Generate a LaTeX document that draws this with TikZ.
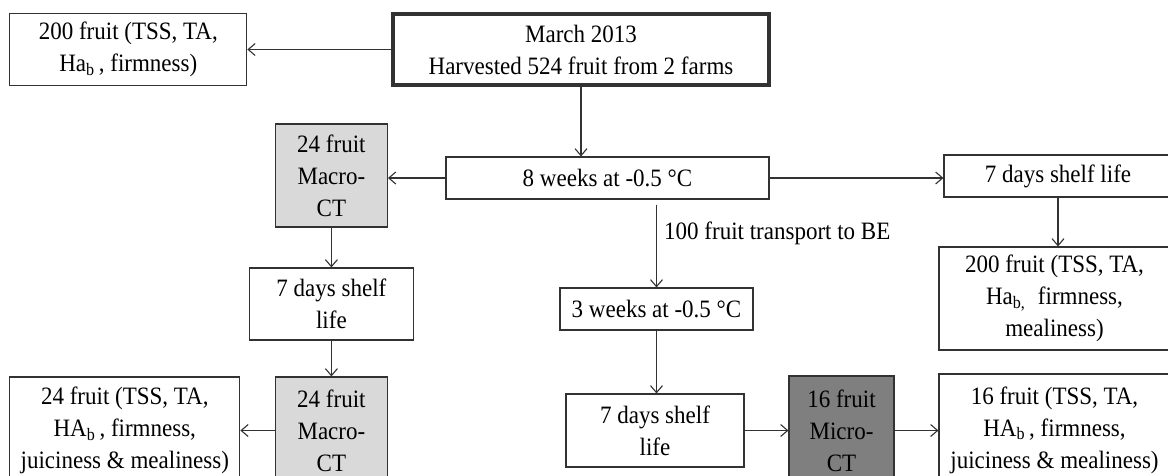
\documentclass[tikz,border=0pt]{standalone}
\usepackage{fontspec}
\setmainfont{Liberation Serif}[FakeStretch=0.92]
\usetikzlibrary{arrows.meta,calc}
\definecolor{lightfill}{RGB}{217,217,217}
\definecolor{darkfill}{RGB}{127,127,127}
\definecolor{edge}{RGB}{50,50,50}
\begin{document}
\begin{tikzpicture}[x=1pt,y=-1pt,
  box/.style={draw=edge, line width=1.1pt, align=center, inner sep=0pt,
    font=\fontsize{25}{32}\selectfont},
  arr/.style={draw=edge, line width=1.1pt, -{Straight Barb[length=7pt,width=12pt]}},
  lbl/.style={inner sep=0pt, font=\fontsize{25}{32}\selectfont}
]
\clip (0,0) rectangle (1168,475);
\fill[white] (0,0) rectangle (1168,475);

\node[box, minimum width=237pt, minimum height=72pt] (f200a) at (128.3,49.5)
  {200 fruit (TSS, TA,\\ Ha\textsubscript{b}\,, firmness)};
\node[box, line width=3.5pt, minimum width=376pt, minimum height=71pt] (m) at (581,49.5)
  {March 2013\\Harvested 524 fruit from 2 farms};
\node[box, fill=lightfill, minimum width=112pt, minimum height=103pt] (mct1) at (331.4,175.5)
  {24 fruit\\Macro-\\CT};
\node[box, minimum width=323pt, minimum height=42pt] (w8) at (607.5,178)
  {8 weeks at -0.5 °C};
\node[box, minimum width=228pt, minimum height=42pt] (sl1) at (1058,176)
  {7 days shelf life};
\node[box, minimum width=164pt, minimum height=72pt] (sl2) at (331.4,304)
  {7 days shelf\\life};
\node[box, minimum width=193pt, minimum height=42pt] (w3) at (656.5,309)
  {3 weeks at -0.5 °C};
\node[box, minimum width=231pt, minimum height=103pt] (f200r) at (1054.5,298.5)
  {200 fruit (TSS, TA,\\ Ha\textsubscript{b,}\enspace firmness,\\ mealiness)};
\node[box, minimum width=230pt, minimum height=107pt] (f24) at (124.8,430.5)
  {24 fruit (TSS, TA,\\ HA\textsubscript{b}\,, firmness,\\ juiciness \& mealiness)};
\node[box, fill=lightfill, minimum width=112pt, minimum height=107pt] (mct2) at (331.4,430.5)
  {24 fruit\\Macro-\\CT};
\node[box, minimum width=178pt, minimum height=73pt] (sl3) at (655,430.5)
  {7 days shelf\\life};
\node[box, fill=darkfill, minimum width=105pt, minimum height=109pt] (micro) at (841.5,430.5)
  {16 fruit\\Micro-\\CT};
\node[box, minimum width=231pt, minimum height=112pt] (f16) at (1054.5,430)
  {16 fruit (TSS, TA,\\ HA\textsubscript{b}\,, firmness,\\ juiciness \& mealiness)};

\coordinate (t0) at ($(w3.north |- w8.south)+(0,5)$);
\node[lbl, anchor=west] (trans) at (664,233) {100 fruit transport to BE};

\draw[arr] (m.west) -- (m.west -| f200a.east);
\draw[arr] (m.south) -- (m.south |- w8.north);
\draw[arr] (w8.west) -- (w8.west -| mct1.east);
\draw[arr] (w8.east) -- (w8.east -| sl1.west);
\draw[arr] (t0) -- (w3.north);
\draw[arr] (sl1.south) -- (sl1.south |- f200r.north);
\draw[arr] (mct1.south) -- (sl2.north);
\draw[arr] (sl2.south) -- (mct2.north);
\draw[arr] (mct2.west) -- (mct2.west -| f24.east);
\draw[arr] (w3.south) -- (w3.south |- sl3.north);
\draw[arr] (sl3.east) -- (sl3.east -| micro.west);
\draw[arr] (micro.east) -- (micro.east -| f16.west);
\end{tikzpicture}
\end{document}
